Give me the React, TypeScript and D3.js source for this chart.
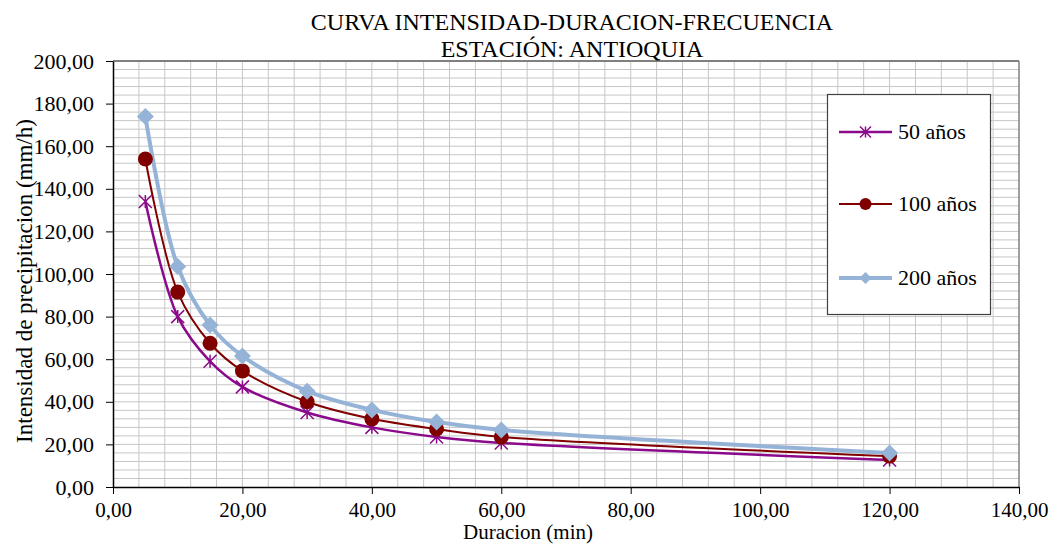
import React, { useEffect, useRef } from "react";
import * as d3 from "d3";

const duracion = [5, 10, 15, 20, 30, 40, 50, 60, 120];
const t50 = [134, 80, 59, 47, 35, 28, 23.5, 20.7, 12.7];
const t100 = [154, 91.5, 67.5, 54.5, 40, 32, 27.2, 23.5, 14.5];
const t200 = [174, 103.5, 76, 61.5, 45, 36.2, 30.5, 26.8, 16];
const xTicks = [0, 20, 40, 60, 80, 100, 120, 140];
const yTicks = [0, 20, 40, 60, 80, 100, 120, 140, 160, 180, 200];

const series = [
  { name: "50 años", values: t50, color: "#8B0A8B", width: 2.5, marker: "star" },
  { name: "100 años", values: t100, color: "#800000", width: 2, marker: "circle" },
  { name: "200 años", values: t200, color: "#95B3D7", width: 4, marker: "diamond" },
];

const W = 1053, H = 545;
const m = { left: 113, right: 1019, top: 61, bottom: 487 };
const font = "Liberation Serif, Times New Roman, DejaVu Serif, serif";

const fmt = (v: number) => v.toFixed(2).replace(".", ",");

const App = () => {
  const ref = useRef<SVGSVGElement>(null);

  useEffect(() => {
    const svg = d3.select(ref.current);
    svg.selectAll("*").remove();

    const x = d3.scaleLinear().domain([0, 140]).range([m.left, m.right]);
    const y = d3.scaleLinear().domain([0, 200]).range([m.bottom, m.top]);

    // grid
    const grid = svg.append("g");
    d3.range(4, 140, 4).forEach(v => {
      grid.append("line")
        .attr("x1", x(v)).attr("x2", x(v)).attr("y1", m.top).attr("y2", m.bottom)
        .attr("stroke", "#c6c6c6").attr("stroke-width", 1);
    });
    d3.range(4, 200, 4).forEach(v => {
      grid.append("line")
        .attr("x1", m.left).attr("x2", m.right).attr("y1", y(v)).attr("y2", y(v))
        .attr("stroke", "#c6c6c6").attr("stroke-width", 1);
    });

    // frame top/right
    svg.append("line").attr("x1", m.left).attr("x2", m.right).attr("y1", m.top).attr("y2", m.top)
      .attr("stroke", "#808080").attr("stroke-width", 2);
    svg.append("line").attr("x1", m.right).attr("x2", m.right).attr("y1", m.top).attr("y2", m.bottom)
      .attr("stroke", "#808080").attr("stroke-width", 1.5);

    // axes
    const xAxis = d3.axisBottom(x).tickValues(xTicks).tickFormat(d => fmt(+d)).tickSize(7).tickSizeOuter(0);
    const gx = svg.append("g").attr("transform", `translate(0,${m.bottom})`).call(xAxis);
    gx.attr("font-family", null).attr("font-size", null);
    gx.select(".domain").attr("stroke", "#000").attr("stroke-width", 1.5);
    gx.selectAll("text").style("font-family", font).style("font-size", "21px").attr("fill", "#000")
      .attr("y", 30).attr("dy", 0);

    const yAxis = d3.axisLeft(y).tickValues(yTicks).tickFormat(d => fmt(+d)).tickSize(7).tickSizeOuter(0);
    const gy = svg.append("g").attr("transform", `translate(${m.left},0)`).call(yAxis);
    gy.attr("font-family", null).attr("font-size", null);
    gy.select(".domain").attr("stroke", "#000").attr("stroke-width", 1.5);
    gy.selectAll("text").style("font-family", font).style("font-size", "22px").attr("fill", "#000").attr("x", -19);

    // lines
    const line = d3.line<number>()
      .x((d, i) => x(duracion[i]))
      .y(d => y(d))
      .curve(d3.curveCatmullRom.alpha(0.5));

    const drawMarker = (g: any, kind: string, cx: number, cy: number, color: string, s: number) => {
      if (kind === "circle") {
        g.append("circle").attr("cx", cx).attr("cy", cy).attr("r", s).attr("fill", color);
      } else if (kind === "diamond") {
        g.append("path")
          .attr("d", `M${cx},${cy - s}L${cx + s},${cy}L${cx},${cy + s}L${cx - s},${cy}Z`)
          .attr("fill", color);
      } else {
        const r = s;
        g.append("path")
          .attr("d", `M${cx - r},${cy - r}L${cx + r},${cy + r}M${cx - r},${cy + r}L${cx + r},${cy - r}M${cx},${cy - r}L${cx},${cy + r}`)
          .attr("stroke", color).attr("stroke-width", 1.5).attr("fill", "none");
      }
    };

    const markerSize: Record<string, number> = { star: 6.5, circle: 7.5, diamond: 8.5 };

    series.forEach(s => {
      svg.append("path").datum(s.values).attr("d", line)
        .attr("fill", "none").attr("stroke", s.color).attr("stroke-width", s.width);
    });
    series.forEach(s => {
      const g = svg.append("g");
      s.values.forEach((v, i) => drawMarker(g, s.marker, x(duracion[i]), y(v), s.color, markerSize[s.marker]));
    });

    const label = (xp: number, yp: number, txt: string, size: number, anchor = "middle") =>
      svg.append("text").attr("x", xp).attr("y", yp).attr("text-anchor", anchor)
        .style("font-family", font).style("font-size", `${size}px`).attr("fill", "#000").text(txt);

    // legend
    const lg = svg.append("g");
    lg.append("rect").attr("x", 827.5).attr("y", 94.5).attr("width", 163).attr("height", 220)
      .attr("fill", "#fff").attr("stroke", "#404040").attr("stroke-width", 1.2);
    const ly = [132, 204, 278];
    const legendSize: Record<string, number> = { star: 5.5, circle: 6, diamond: 6 };
    series.forEach((s, i) => {
      lg.append("line").attr("x1", 839).attr("x2", 892).attr("y1", ly[i]).attr("y2", ly[i])
        .attr("stroke", s.color).attr("stroke-width", s.width);
      drawMarker(lg, s.marker, 865.5, ly[i], s.color, legendSize[s.marker]);
    });
    series.forEach((s, i) => label(898, ly[i] + 7, s.name, 22, "start"));

    // titles
    label(572, 30, "CURVA INTENSIDAD-DURACION-FRECUENCIA", 24);
    label(572, 57, "ESTACIÓN: ANTIOQUIA", 24);
    label(528, 539, "Duracion (min)", 21);
    label(0, 0, "Intensidad de precipitacion (mm/h)", 23).attr("transform", `translate(32,281) rotate(-90)`);
  }, []);

  return (
    <svg ref={ref} width={W} height={H} style={{ position: "absolute", left: 0, top: 0, background: "#fff" }} />
  );
};

export default App;
